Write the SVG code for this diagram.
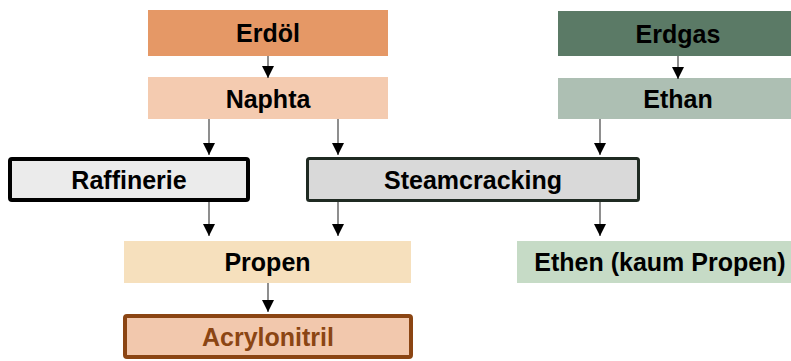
<svg xmlns="http://www.w3.org/2000/svg" width="791" height="361" viewBox="0 0 791 361">
  <defs>
    <marker id="arrow" markerUnits="userSpaceOnUse" markerWidth="12" markerHeight="12" refX="12" refY="6" orient="auto" viewBox="0 0 12 12">
      <path d="M0,0 L12,6 L0,12 Z" fill="#000"/>
    </marker>
    <style>
      text { font-family: "Liberation Sans", Arial, sans-serif; font-weight: bold; font-size: 25px; text-anchor: middle; fill: #000; }
      .conn line { stroke: #444; stroke-width: 1.2; }
    </style>
  </defs>
  <rect width="791" height="361" fill="#fff"/>

  <g id="erdoel">
    <rect x="148" y="10" width="240" height="46" fill="#e59866"/>
    <text x="268" y="42">Erdöl</text>
  </g>
  <g id="naphta">
    <rect x="148" y="77" width="240" height="42" fill="#f4cbb0"/>
    <text x="268" y="108">Naphta</text>
  </g>
  <g id="erdgas">
    <rect x="558" y="11" width="240" height="45" fill="#5b7a66"/>
    <text x="678" y="43">Erdgas</text>
  </g>
  <g id="ethan">
    <rect x="558" y="78" width="240" height="41" fill="#adbfb3"/>
    <text x="678" y="108">Ethan</text>
  </g>
  <g id="raffinerie">
    <rect x="10" y="159" width="238" height="41" rx="2" fill="#ebebeb" stroke="#000" stroke-width="4"/>
    <text x="129" y="189">Raffinerie</text>
  </g>
  <g id="steamcracking">
    <rect x="307.5" y="158.5" width="331" height="42" rx="2" fill="#d9d9d9" stroke="#1f2a22" stroke-width="3"/>
    <text x="473" y="189">Steamcracking</text>
  </g>
  <g id="propen">
    <rect x="124" y="241" width="287" height="42" fill="#f6e0bd"/>
    <text x="267.5" y="271">Propen</text>
  </g>
  <g id="ethen">
    <rect x="517" y="241" width="286" height="42" fill="#c6dbc6"/>
    <text x="660" y="271">Ethen (kaum Propen)</text>
  </g>
  <g id="acrylonitril">
    <rect x="125" y="316" width="286" height="41" rx="2" fill="#f2c8ad" stroke="#8b4513" stroke-width="4"/>
    <text x="268" y="346" style="fill:#8b4513">Acrylonitril</text>
  </g>

  <g id="connectors" class="conn">
    <line x1="268" y1="56" x2="268" y2="78" marker-end="url(#arrow)"/>
    <line x1="678" y1="56" x2="678" y2="79" marker-end="url(#arrow)"/>
    <line x1="209" y1="119" x2="209" y2="155" marker-end="url(#arrow)"/>
    <line x1="338" y1="119" x2="338" y2="155" marker-end="url(#arrow)"/>
    <line x1="600" y1="119" x2="600" y2="155" marker-end="url(#arrow)"/>
    <line x1="209" y1="202" x2="209" y2="236" marker-end="url(#arrow)"/>
    <line x1="338" y1="202" x2="338" y2="236" marker-end="url(#arrow)"/>
    <line x1="600" y1="202" x2="600" y2="236" marker-end="url(#arrow)"/>
    <line x1="268" y1="283" x2="268" y2="312" marker-end="url(#arrow)"/>
  </g>
</svg>
